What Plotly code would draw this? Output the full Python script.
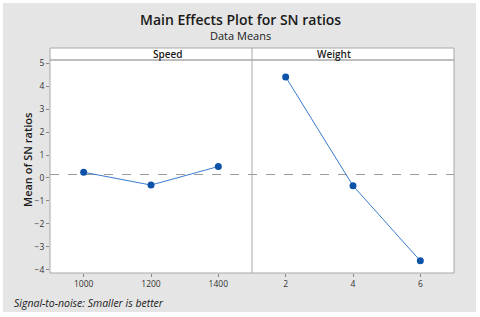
import plotly.graph_objects as go

speed_levels = [1000, 1200, 1400]
speed_sn = [0.25, -0.31, 0.50]
weight_levels = [2, 4, 6]
weight_sn = [4.41, -0.34, -3.62]
overall_mean = 0.15
panel_titles = ["Speed", "Weight"]

W, H = 480, 317
ML, MR, MT, MB = 50, 26, 60, 44
pw = W - ML - MR
ph = H - MT - MB

def px_x(x):
    return (x - ML) / pw

def px_y(y):
    return (H - MB - y) / ph

line_col = "#3a7bd0"
mark_col = "#0b52a8"
border = "#a8a8a8"
font_fam = "Open Sans, Noto Sans, DejaVu Sans, sans-serif"

fig = go.Figure()
fig.add_trace(go.Scatter(x=speed_levels, y=speed_sn, mode="lines+markers",
                         line=dict(color=line_col, width=1),
                         marker=dict(color=mark_col, size=7),
                         xaxis="x", yaxis="y", showlegend=False))
fig.add_trace(go.Scatter(x=weight_levels, y=weight_sn, mode="lines+markers",
                         line=dict(color=line_col, width=1),
                         marker=dict(color=mark_col, size=7),
                         xaxis="x2", yaxis="y", showlegend=False))

shapes = [
    dict(type="rect", xref="paper", yref="paper", layer="below",
         x0=px_x(3), x1=px_x(476), y0=px_y(312), y1=px_y(3),
         fillcolor="#e5e5e5", line=dict(width=0)),
    dict(type="rect", xref="paper", yref="paper", layer="below",
         x0=0, x1=1, y0=0, y1=1, fillcolor="white", line=dict(width=0)),
    dict(type="rect", xref="paper", yref="paper", layer="below",
         x0=0, x1=1, y0=1, y1=px_y(48), fillcolor="white",
         line=dict(color=border, width=1)),
    dict(type="rect", xref="paper", yref="paper", layer="above",
         x0=0, x1=1, y0=0, y1=1, line=dict(color=border, width=1)),
    dict(type="line", xref="paper", yref="paper", layer="above",
         x0=0.5, x1=0.5, y0=0, y1=px_y(48), line=dict(color=border, width=1)),
    dict(type="line", xref="paper", yref="y", layer="below",
         x0=0, x1=1, y0=overall_mean, y1=overall_mean,
         line=dict(color="#9a9a9a", width=1, dash="dash")),
]

annotations = [
    dict(text="Main Effects Plot for SN ratios", xref="paper", yref="paper",
         x=px_x(240), y=px_y(20), showarrow=False, yanchor="middle",
         font=dict(size=14, family=font_fam, color="#1a1a1a", weight=600)),
    dict(text="Data Means", xref="paper", yref="paper",
         x=px_x(240), y=px_y(35), showarrow=False, yanchor="middle",
         font=dict(size=11, family=font_fam, color="#1a1a1a", weight=500)),
    dict(text=panel_titles[0], xref="paper", yref="paper",
         x=0.25, y=px_y(54), showarrow=False, yanchor="middle",
         font=dict(size=10, family=font_fam, color="#1a1a1a", weight=600)),
    dict(text=panel_titles[1], xref="paper", yref="paper",
         x=0.75, y=px_y(54), showarrow=False, yanchor="middle",
         font=dict(size=10, family=font_fam, color="#1a1a1a", weight=600)),
    dict(text="<i>Signal-to-noise: Smaller is better</i>", xref="paper", yref="paper",
         x=px_x(12), y=px_y(303), xanchor="left", yanchor="middle", showarrow=False,
         font=dict(size=10.5, family=font_fam, color="#1a1a1a")),
    dict(text="Mean of SN ratios", xref="paper", yref="paper",
         x=px_x(27), y=px_y(160), xanchor="center", yanchor="middle",
         textangle=-90, showarrow=False,
         font=dict(size=11, family=font_fam, color="#1a1a1a", weight=600)),
]

axis_common = dict(showgrid=False, zeroline=False, ticks="outside", ticklen=3,
                   tickcolor="#888888", tickfont=dict(size=8.5, family=font_fam, color="#333333"),
                   showline=False, fixedrange=True, automargin=False)

fig.update_layout(
    width=W, height=H,
    margin=dict(l=ML, r=MR, t=MT, b=MB, autoexpand=False),
    paper_bgcolor="white", plot_bgcolor="rgba(0,0,0,0)",
    xaxis=dict(domain=[0, 0.5], range=[900, 1500], tickvals=speed_levels, **axis_common),
    xaxis2=dict(domain=[0.5, 1], range=[1, 7], tickvals=weight_levels, anchor="y", **axis_common),
    yaxis=dict(range=[-4.15, 5.15], dtick=1, anchor="x", **axis_common),
    shapes=shapes, annotations=annotations,
)

fig.write_html("out.html", config={"displayModeBar": False},
               post_script="document.body.style.margin='0';")
